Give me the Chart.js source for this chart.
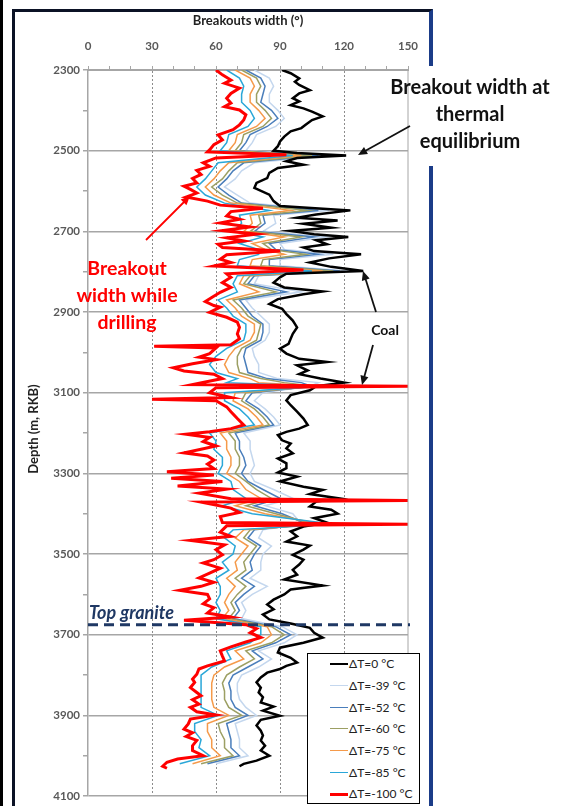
<!DOCTYPE html>
<html>
<head>
<meta charset="utf-8">
<script src="https://cdn.jsdelivr.net/npm/chart.js@4.4.0/dist/chart.umd.min.js"></script>
<style>
    body { margin: 0; background: #fff; }
    #contenedor { position: relative; width: 574px; height: 806px; overflow: hidden; font-family: Lato, "Open Sans", sans-serif; }
    #grafica { position: absolute; left: 0; top: 0; }
    .barra { position: absolute; left: 0; top: 0; width: 3px; height: 806px; background: #000; }
    .marco { position: absolute; left: 12px; top: 9px; width: 414px; height: 830px; border-left: 3px solid #0b1225; border-top: 3px solid #0b1225; border-right: 4px solid #1b3c88; }
    .tapa { position: absolute; left: 424px; top: 66px; width: 14px; height: 100px; background: #fff; }
    .nota { position: absolute; font-weight: bold; text-align: center; white-space: nowrap; }
    .leyenda { position: absolute; left: 307px; top: 653px; width: 113px; height: 151px; background: #fff; border: 1.5px solid #000; box-sizing: border-box; }
    .item { position: absolute; left: 0; height: 16px; font-size: 12px; color: #222; line-height: 16px; }
    .item span.linea { position: absolute; left: 22px; top: 8px; width: 18px; }
    .item span.texto { position: absolute; left: 41px; top: 0; white-space: nowrap; }
</style>
</head>
<body>
<div id="contenedor">
    <div class="barra"></div>
    <div class="marco"></div>
    <div class="tapa"></div>
    <canvas id="grafica" width="574" height="806"></canvas>
    <div class="nota" style="left:148px; top:12px; width:200px; font-size:13px; color:#222;">Breakouts width (°)</div>
    <div class="nota" style="left:-22px; top:421px; width:110px; font-size:13px; color:#222; transform: rotate(-90deg);">Depth (m, RKB)</div>
    <div class="nota" style="left:378px; top:73px; width:184px; font-size:20px; line-height:27px; color:#111;">Breakout width at<br>thermal<br>equilibrium</div>
    <div class="nota" style="left:62px; top:254px; width:130px; font-size:19.5px; line-height:27px; color:#ff0000;">Breakout<br>width while<br>drilling</div>
    <div class="nota" style="left:362px; top:321px; width:46px; font-size:14px; color:#111;">Coal</div>
    <div class="nota" style="left:89px; top:601px; font-size:18px; font-style:italic; color:#1f3864;">Top granite</div>
    <div class="leyenda" id="leyenda"></div>
</div>
<script>
// Profundidades y anchos de breakout
const profNegro = [
    2300, 2308, 2321, 2329, 2337, 2350, 2358, 2370, 2378, 2387,
    2395, 2403, 2415, 2424, 2436, 2444, 2452, 2465, 2477, 2489,
    2500, 2506, 2512, 2518, 2526, 2535, 2543, 2555, 2568, 2580,
    2592, 2609, 2625, 2637, 2648, 2658, 2666, 2673, 2681, 2691,
    2699, 2707, 2714, 2722, 2732, 2740, 2749, 2757, 2767, 2777,
    2788, 2798, 2805, 2814, 2827, 2839, 2849, 2856, 2868, 2880,
    2892, 2905, 2921, 2938, 2954, 2966, 2979, 2991, 3003, 3016,
    3024, 3032, 3045, 3054, 3065, 3075, 3084, 3094, 3106, 3119,
    3131, 3147, 3164, 3180, 3189, 3197, 3205, 3218, 3226, 3238,
    3250, 3263, 3275, 3287, 3298, 3308, 3320, 3333, 3341, 3351,
    3362, 3370, 3382, 3390, 3400, 3411, 3422, 3432, 3444, 3456,
    3469, 3479, 3489, 3502, 3514, 3526, 3539, 3551, 3563, 3578,
    3588, 3600, 3613, 3625, 3637, 3650, 3662, 3672, 3683, 3695,
    3707, 3720, 3732, 3744, 3757, 3769, 3777, 3785, 3794, 3806,
    3818, 3831, 3843, 3855, 3868, 3878, 3888, 3901, 3911, 3925,
    3938, 3950, 3962, 3975, 3987, 4000, 4012, 4020, 4026
];
const anchoNegro = [
    91, 95, 99, 97, 99, 104, 99, 96, 99, 95,
    101, 105, 110, 105, 102, 100, 95, 92, 90, 89,
    87, 98, 121, 98, 93, 101, 89, 85, 84, 79,
    78, 85, 87, 90, 123, 107, 98, 117, 101, 114,
    95, 106, 122, 107, 112, 101, 106, 128, 113, 104,
    114, 129, 93, 90, 87, 92, 110, 101, 89, 85,
    91, 93, 96, 98, 96, 95, 94, 90, 93, 99,
    112, 98, 103, 99, 109, 120, 107, 104, 95, 93,
    95, 98, 101, 103, 99, 93, 89, 91, 95, 93,
    96, 89, 93, 93, 89, 98, 90, 101, 110, 104,
    118, 107, 104, 114, 117, 106, 112, 101, 95, 98,
    93, 104, 101, 96, 101, 99, 96, 98, 92, 110,
    95, 92, 87, 84, 87, 82, 85, 95, 104, 106,
    110, 101, 90, 89, 95, 98, 93, 90, 84, 81,
    79, 81, 80, 82, 81, 87, 82, 90, 81, 79,
    81, 82, 81, 83, 81, 85, 79, 73, 71
];

const profRojo = [
    2300, 2312, 2325, 2333, 2345, 2358, 2370, 2382, 2391, 2399,
    2411, 2424, 2436, 2448, 2461, 2473, 2485, 2498, 2503, 2510,
    2518, 2530, 2539, 2549, 2559, 2569, 2580, 2588, 2596, 2605,
    2615, 2625, 2635, 2643, 2651, 2662, 2670, 2679, 2689, 2698,
    2707, 2716, 2724, 2732, 2740, 2749, 2758, 2769, 2777, 2786,
    2796, 2805, 2814, 2827, 2839, 2851, 2864, 2874, 2884, 2888,
    2901, 2913, 2925, 2938, 2954, 2966, 2981, 2985, 2989, 3003,
    3012, 3018, 3028, 3038, 3046, 3054, 3065, 3080, 3084, 3088,
    3100, 3112, 3116, 3120, 3135, 3147, 3164, 3180, 3189, 3197,
    3203, 3211, 3221, 3232, 3240, 3249, 3257, 3267, 3277, 3288,
    3296, 3304, 3312, 3320, 3331, 3339, 3349, 3363, 3367, 3371,
    3386, 3397, 3407, 3422, 3426, 3430, 3446, 3456, 3466, 3477,
    3489, 3502, 3514, 3522, 3535, 3547, 3559, 3570, 3580, 3590,
    3600, 3611, 3623, 3633, 3646, 3656, 3664, 3675, 3685, 3695,
    3707, 3718, 3730, 3740, 3753, 3765, 3777, 3785, 3798, 3810,
    3818, 3831, 3843, 3851, 3861, 3872, 3880, 3891, 3899, 3909,
    3921, 3934, 3943, 3952, 3962, 3975, 3987, 4000, 4008, 4016,
    4026, 4031
];
const anchoRojo = [
    60, 63, 67, 64, 71, 67, 65, 67, 64, 71,
    74, 73, 71, 68, 61, 63, 59, 57, 56, 93,
    60, 54, 57, 51, 53, 49, 51, 45, 48, 51,
    46, 56, 62, 82, 67, 65, 71, 62, 76, 63,
    79, 65, 73, 61, 63, 90, 65, 62, 67, 59,
    101, 65, 67, 63, 67, 62, 58, 55, 59, 62,
    57, 65, 70, 71, 70, 71, 67, 31, 60, 57,
    52, 60, 49, 40, 45, 59, 63, 49, 150, 60,
    57, 67, 30, 60, 65, 67, 70, 73, 67, 57,
    46, 57, 54, 60, 53, 45, 56, 59, 56, 59,
    37, 59, 39, 63, 42, 65, 52, 67, 150, 53,
    67, 71, 62, 63, 150, 65, 62, 67, 48, 64,
    60, 63, 59, 54, 62, 57, 52, 59, 53, 43,
    56, 57, 54, 59, 56, 67, 45, 74, 79, 76,
    81, 74, 67, 62, 63, 64, 56, 52, 51, 49,
    50, 48, 51, 53, 49, 52, 48, 51, 60, 48,
    47, 45, 49, 46, 51, 49, 49, 54, 42, 37,
    35, 37
];

// Curvas intermedias (dT = -39 ... -85 °C)
const profMedia = [
    2300, 2320, 2340, 2360, 2380, 2400, 2420, 2440, 2460, 2480,
    2500, 2512, 2530, 2550, 2570, 2590, 2610, 2630, 2648, 2660,
    2680, 2700, 2714, 2730, 2745, 2757, 2770, 2785, 2798, 2810,
    2830, 2850, 2870, 2890, 2910, 2930, 2950, 2970, 2990, 3010,
    3030, 3050, 3065, 3075, 3084, 3100, 3120, 3140, 3160, 3180,
    3200, 3220, 3240, 3260, 3280, 3300, 3320, 3340, 3362, 3380,
    3400, 3426, 3440, 3460, 3480, 3500, 3520, 3540, 3560, 3580,
    3600, 3620, 3640, 3660, 3680, 3700, 3720, 3740, 3760, 3780,
    3800, 3820, 3840, 3860, 3880, 3900, 3920, 3940, 3960, 3980,
    4000, 4020
];
const ancho85 = [
    65, 71, 73, 72, 72, 76, 78, 75, 66, 65,
    62, 96, 61, 58, 55, 51, 55, 64, 85, 71,
    72, 68, 82, 71, 80, 80, 71, 70, 105, 70,
    68, 70, 61, 65, 68, 74, 74, 73, 65, 60,
    57, 60, 70, 65, 110, 64, 64, 71, 75, 78,
    57, 60, 59, 63, 63, 61, 67, 68, 74, 63,
    77, 115, 68, 64, 69, 68, 63, 66, 60, 62,
    62, 60, 62, 60, 81, 81, 76, 65, 67, 58,
    53, 53, 53, 53, 53, 61, 50, 50, 53, 52,
    57, 43
];
const ancho75 = [
    69, 76, 78, 76, 76, 80, 83, 79, 70, 69,
    66, 100, 66, 62, 59, 55, 59, 67, 95, 76,
    77, 73, 92, 77, 83, 92, 77, 76, 110, 73,
    71, 80, 65, 69, 72, 78, 78, 76, 69, 66,
    64, 66, 76, 80, 108, 69, 68, 75, 79, 82,
    62, 65, 65, 67, 67, 65, 71, 74, 81, 69,
    83, 110, 73, 69, 75, 72, 69, 70, 65, 69,
    66, 64, 66, 63, 84, 86, 81, 69, 73, 64,
    59, 58, 58, 58, 59, 66, 56, 56, 58, 58,
    62, 49
];
const ancho60 = [
    72, 79, 81, 79, 79, 83, 86, 82, 73, 72,
    69, 105, 70, 66, 63, 58, 63, 70, 103, 80,
    81, 76, 100, 82, 86, 102, 82, 81, 115, 76,
    73, 88, 68, 72, 75, 81, 80, 79, 72, 70,
    70, 71, 81, 92, 106, 74, 72, 78, 82, 85,
    66, 69, 69, 71, 71, 69, 74, 79, 86, 74,
    88, 106, 76, 73, 79, 76, 73, 74, 69, 74,
    70, 67, 69, 66, 86, 92, 86, 74, 78, 71,
    65, 63, 64, 64, 66, 72, 61, 62, 64, 64,
    68, 53
];
const ancho52 = [
    74, 81, 83, 82, 81, 86, 89, 84, 76, 74,
    71, 108, 73, 68, 65, 61, 66, 72, 108, 82,
    83, 78, 106, 85, 88, 108, 85, 85, 118, 78,
    75, 93, 71, 74, 77, 82, 82, 81, 74, 73,
    74, 75, 84, 100, 105, 77, 74, 80, 84, 87,
    69, 71, 71, 73, 74, 72, 75, 82, 90, 78,
    91, 103, 78, 75, 81, 78, 76, 77, 72, 78,
    73, 69, 71, 68, 88, 95, 88, 77, 82, 75,
    68, 66, 67, 67, 69, 75, 65, 66, 67, 67,
    71, 56
];
const ancho39 = [
    78, 85, 87, 85, 85, 89, 92, 88, 79, 77,
    74, 112, 78, 72, 69, 64, 70, 76, 113, 87,
    88, 82, 112, 90, 92, 115, 90, 90, 122, 80,
    78, 100, 74, 77, 81, 85, 85, 83, 77, 78,
    80, 80, 89, 108, 104, 82, 78, 83, 87, 90,
    73, 76, 76, 77, 78, 76, 78, 87, 96, 83,
    96, 100, 82, 80, 86, 82, 81, 81, 76, 84,
    77, 72, 74, 72, 91, 98, 92, 80, 86, 80,
    72, 70, 70, 71, 74, 79, 69, 70, 71, 71,
    75, 60
];

const etiquetas = ['ΔT=0 °C', 'ΔT=-39 °C', 'ΔT=-52 °C', 'ΔT=-60 °C', 'ΔT=-75 °C', 'ΔT=-85 °C', 'ΔT=-100 °C'];
const colores = ['#000000', '#c4d7ee', '#4a7ebb', '#9c9f63', '#f59a4a', '#2aa7d8', '#ff0000'];
const grosores = [2.5, 1.5, 1.5, 1.5, 1.5, 1.5, 3];
const profGranito = 3675;

document.addEventListener('DOMContentLoaded', () => {
    const puntos = (prof, ancho) => prof.map((p, i) => ({ x: ancho[i], y: p }));

    // Orden de dibujo: el primero queda encima
    const series = [
        { k: 6, data: puntos(profRojo, anchoRojo) },
        { k: 0, data: puntos(profNegro, anchoNegro) },
        { k: 5, data: puntos(profMedia, ancho85) },
        { k: 4, data: puntos(profMedia, ancho75) },
        { k: 3, data: puntos(profMedia, ancho60) },
        { k: 2, data: puntos(profMedia, ancho52) },
        { k: 1, data: puntos(profMedia, ancho39) }
    ];

    const datasets = series.map(s => ({
        label: etiquetas[s.k],
        data: s.data,
        borderColor: colores[s.k],
        borderWidth: grosores[s.k],
        pointRadius: 0,
        tension: 0,
        fill: false
    }));

    // Flecha simple con punta rellena
    function flecha(ctx, x1, y1, x2, y2, color, w) {
        const ang = Math.atan2(y2 - y1, x2 - x1);
        ctx.save();
        ctx.strokeStyle = color;
        ctx.fillStyle = color;
        ctx.lineWidth = w;
        ctx.beginPath();
        ctx.moveTo(x1, y1);
        ctx.lineTo(x2 - 6 * Math.cos(ang), y2 - 6 * Math.sin(ang));
        ctx.stroke();
        ctx.beginPath();
        ctx.moveTo(x2, y2);
        ctx.lineTo(x2 - 10 * Math.cos(ang - 0.42), y2 - 10 * Math.sin(ang - 0.42));
        ctx.lineTo(x2 - 10 * Math.cos(ang + 0.42), y2 - 10 * Math.sin(ang + 0.42));
        ctx.closePath();
        ctx.fill();
        ctx.restore();
    }

    const extras = {
        id: 'extras',
        afterDatasetsDraw(chart) {
            const { ctx, chartArea, scales } = chart;
            ctx.save();
            // borde derecho del area
            ctx.strokeStyle = '#a6a6a6';
            ctx.lineWidth = 1;
            const xr = scales.x.getPixelForValue(150);
            ctx.beginPath();
            ctx.moveTo(xr, chartArea.top);
            ctx.lineTo(xr, chartArea.bottom);
            ctx.stroke();
            // techo del granito
            const yg = scales.y.getPixelForValue(profGranito);
            ctx.strokeStyle = '#1f3864';
            ctx.lineWidth = 3;
            ctx.setLineDash([10, 6]);
            ctx.beginPath();
            ctx.moveTo(chartArea.left, yg);
            ctx.lineTo(chartArea.right + 2, yg);
            ctx.stroke();
            ctx.restore();

            flecha(ctx, 410, 126, 358, 155, '#111', 1.8);
            flecha(ctx, 146, 240, 190, 196, '#ff0000', 1.8);
            flecha(ctx, 376, 312, 363, 271, '#111', 1.8);
            flecha(ctx, 373, 345, 362, 385, '#111', 1.8);
        }
    };

    const gris = '#a6a6a6';
    const fuente = { family: 'Lato, "Open Sans", sans-serif', size: 11.5, weight: 'bold' };

    new Chart(document.getElementById('grafica'), {
        type: 'line',
        data: { datasets },
        options: {
            responsive: false,
            animation: false,
            layout: { padding: { left: 48, top: 30, right: 166, bottom: 8 } },
            plugins: { legend: { display: false }, tooltip: { enabled: false } },
            scales: {
                x: {
                    type: 'linear',
                    position: 'top',
                    min: 0,
                    max: 150,
                    afterFit: (s) => { s.height = 40; },
                    ticks: {
                        stepSize: 10,
                        autoSkip: false,
                        maxRotation: 0,
                        padding: 13,
                        color: '#595959',
                        font: fuente,
                        callback: (v) => (v % 30 === 0 ? v : '')
                    },
                    grid: {
                        color: (c) => (c.tick && c.tick.value % 30 === 0 && c.tick.value > 0 && c.tick.value < 150 ? '#8c8c8c' : 'rgba(0,0,0,0)'),
                        tickColor: gris,
                        tickLength: 4,
                        lineWidth: 1
                    },
                    border: { display: true, color: gris, width: 1, dash: [2, 2] }
                },
                y: {
                    type: 'linear',
                    reverse: true,
                    min: 2300,
                    max: 4100,
                    afterFit: (s) => { s.width = 40; },
                    ticks: {
                        stepSize: 100,
                        autoSkip: false,
                        padding: 3,
                        color: '#595959',
                        font: fuente,
                        callback: (v) => ((v - 2300) % 200 === 0 ? v : '')
                    },
                    grid: {
                        color: (c) => (c.tick && (c.tick.value - 2300) % 200 === 0 ? gris : 'rgba(0,0,0,0)'),
                        tickColor: gris,
                        tickLength: 5,
                        lineWidth: 1.5
                    },
                    border: { display: true, color: gris, width: 1.5 }
                }
            }
        },
        plugins: [extras]
    });

    // Leyenda en HTML, dentro del area del grafico
    const leyenda = document.getElementById('leyenda');
    const filas = [10, 32, 54, 75, 97, 119, 140];
    etiquetas.forEach((txt, i) => {
        const item = document.createElement('div');
        item.className = 'item';
        item.style.top = (filas[i] - 8) + 'px';
        item.innerHTML = `<span class="linea" style="border-top:${grosores[i]}px solid ${colores[i]}; margin-top:-${grosores[i] / 2}px"></span><span class="texto">${txt}</span>`;
        leyenda.appendChild(item);
    });
});
</script>
</body>
</html>
